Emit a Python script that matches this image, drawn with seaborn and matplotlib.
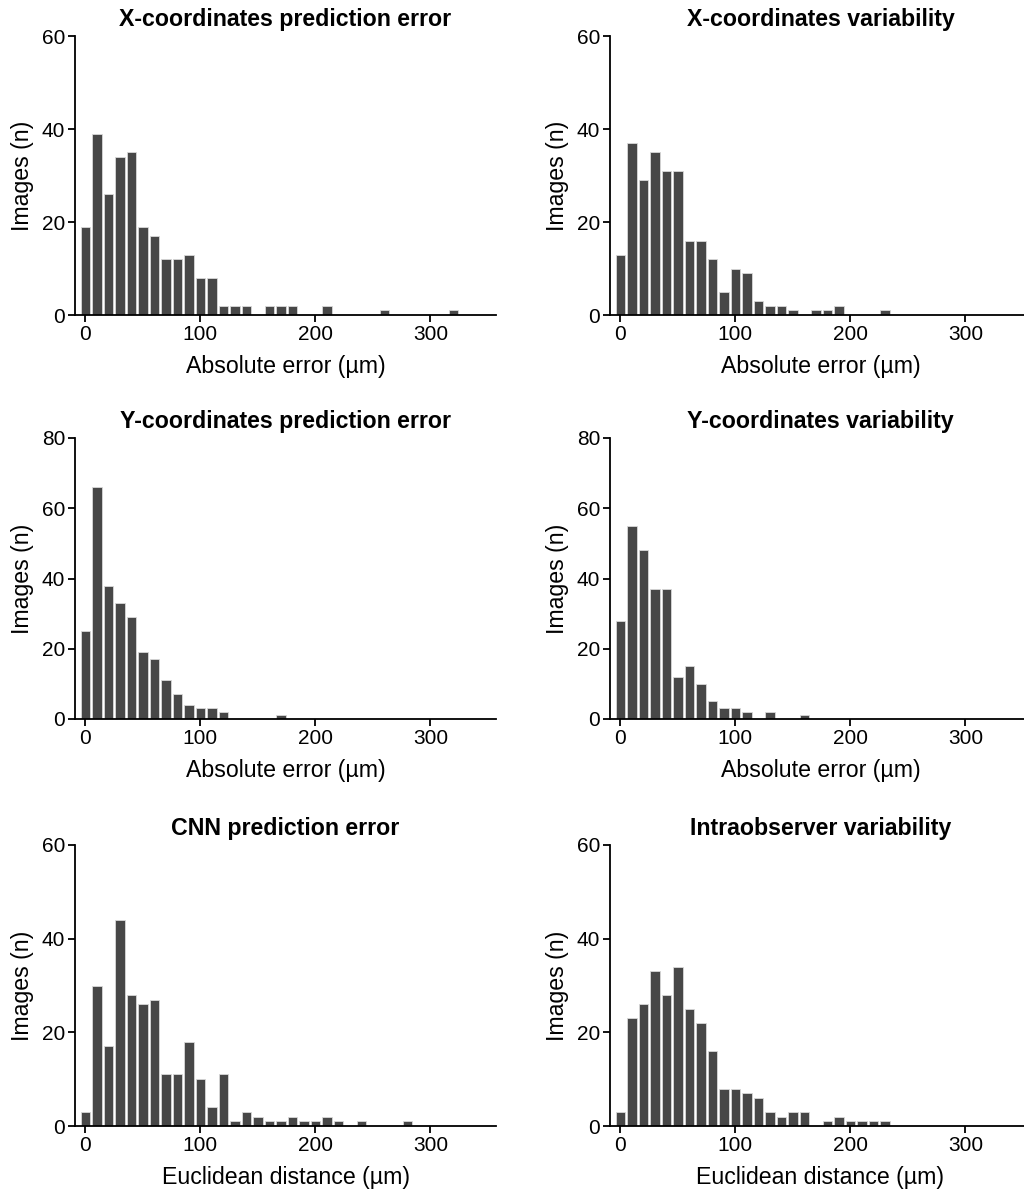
import numpy as np
import matplotlib
matplotlib.use("Agg")
import matplotlib.pyplot as plt
import seaborn as sns

# Centros de los intervalos (10 µm) y cuentas por panel
x_pred_centers = [0, 10, 20, 30, 40, 50, 60, 70, 80, 90, 100, 110, 120, 130, 140,
                  160, 170, 180, 210, 260, 320]
x_pred_counts = [19, 39, 26, 34, 35, 19, 17, 12, 12, 13, 8, 8, 2, 2, 2,
                 2, 2, 2, 2, 1, 1]

x_var_centers = [0, 10, 20, 30, 40, 50, 60, 70, 80, 90, 100, 110, 120, 130, 140,
                 150, 170, 180, 190, 230]
x_var_counts = [13, 37, 29, 35, 31, 31, 16, 16, 12, 5, 10, 9, 3, 2, 2,
                1, 1, 1, 2, 1]

y_pred_centers = [0, 10, 20, 30, 40, 50, 60, 70, 80, 90, 100, 110, 120, 170]
y_pred_counts = [25, 66, 38, 33, 29, 19, 17, 11, 7, 4, 3, 3, 2, 1]

y_var_centers = [0, 10, 20, 30, 40, 50, 60, 70, 80, 90, 100, 110, 130, 160]
y_var_counts = [28, 55, 48, 37, 37, 12, 15, 10, 5, 3, 3, 2, 2, 1]

cnn_centers = [0, 10, 20, 30, 40, 50, 60, 70, 80, 90, 100, 110, 120, 130, 140,
               150, 160, 170, 180, 190, 200, 210, 220, 240, 280]
cnn_counts = [3, 30, 17, 44, 28, 26, 27, 11, 11, 18, 10, 4, 11, 1, 3,
              2, 1, 1, 2, 1, 1, 2, 1, 1, 1]

intra_centers = [0, 10, 20, 30, 40, 50, 60, 70, 80, 90, 100, 110, 120, 130, 140,
                 150, 160, 180, 190, 200, 210, 220, 230]
intra_counts = [3, 23, 26, 33, 28, 34, 25, 22, 16, 8, 8, 7, 6, 3, 2,
                3, 3, 1, 2, 1, 1, 1, 1]

titles = ["X-coordinates prediction error", "X-coordinates variability",
          "Y-coordinates prediction error", "Y-coordinates variability",
          "CNN prediction error", "Intraobserver variability"]
xlabels = ["Absolute error (µm)", "Absolute error (µm)",
           "Absolute error (µm)", "Absolute error (µm)",
           "Euclidean distance (µm)", "Euclidean distance (µm)"]
ymax = [60, 60, 80, 80, 60, 60]

datos = [(x_pred_centers, x_pred_counts), (x_var_centers, x_var_counts),
         (y_pred_centers, y_pred_counts), (y_var_centers, y_var_counts),
         (cnn_centers, cnn_counts), (intra_centers, intra_counts)]

sns.set_style("ticks")
plt.rcParams['font.family'] = ['Liberation Sans', 'DejaVu Sans']
plt.rcParams['text.color'] = 'black'
plt.rcParams['axes.labelcolor'] = 'black'
plt.rcParams['xtick.color'] = 'black'
plt.rcParams['ytick.color'] = 'black'

W, H = 1024, 1189
fig = plt.figure(figsize=(W / 100, H / 100), dpi=100)

# posiciones en pixeles (izquierda, arriba, abajo) de cada panel
lefts = [75, 610]
rows = [(36, 315), (438, 719), (845, 1126)]
ancho = 421

for i, (centros, cuentas) in enumerate(datos):
    col = i % 2
    top, bot = rows[i // 2]
    ax = fig.add_axes([lefts[col] / W, 1 - bot / H, ancho / W, (bot - top) / H])
    sns.histplot(x=centros, weights=cuentas, binwidth=10, binrange=(-5, 355),
                 shrink=0.82, color="#474747", edgecolor="#d8d8d8", linewidth=0.6,
                 alpha=1, ax=ax)
    ax.set_xlim(-9, 357)
    ax.set_ylim(0, ymax[i])
    ax.set_xticks([0, 100, 200, 300])
    ax.set_yticks(np.arange(0, ymax[i] + 1, 20))
    ax.set_title(titles[i], fontsize=16.7, fontweight='bold', pad=7, color='black')
    ax.set_xlabel(xlabels[i], fontsize=16.7, labelpad=8)
    ax.set_ylabel("Images (n)", fontsize=16.7, labelpad=6)
    ax.tick_params(labelsize=15, width=1.3, length=5, pad=2)
    for s in ["left", "bottom"]:
        ax.spines[s].set_linewidth(1.3)
        ax.spines[s].set_color("black")
    sns.despine(ax=ax)

fig.savefig("out.png", dpi=100)
